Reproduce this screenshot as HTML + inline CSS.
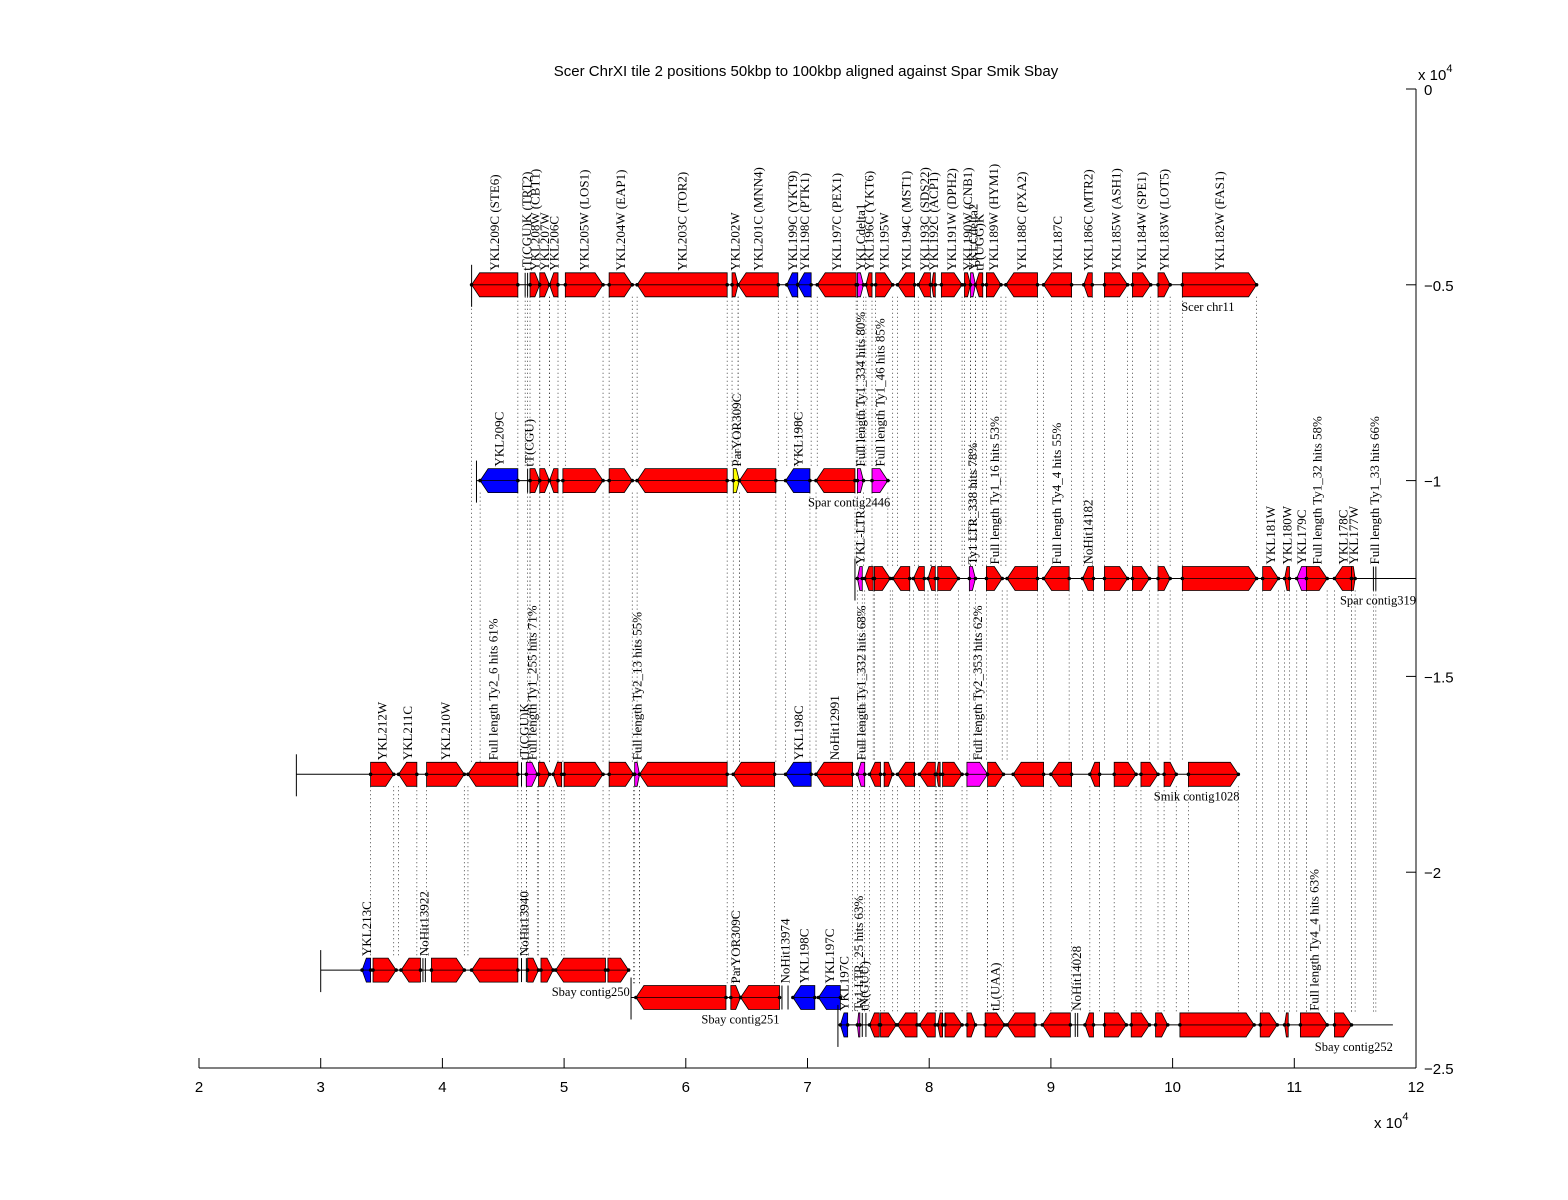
<!DOCTYPE html>
<html><head><meta charset="utf-8"><style>
html,body{margin:0;padding:0;background:#fff;}
svg{display:block;}
</style></head><body>
<svg id="chart" width="1568" height="1200" xmlns="http://www.w3.org/2000/svg">
<rect width="1568" height="1200" fill="#fff"/>
<text x="806" y="76" font-family="Liberation Sans, sans-serif" font-size="15" text-anchor="middle">Scer ChrXI tile 2 positions 50kbp to 100kbp aligned against Spar Smik Sbay</text>
<g id="dots"></g>
<g id="tracks"></g>
<g id="labels"></g>
<g id="axes"></g>
<text x="1418" y="80" font-family="Liberation Sans, sans-serif" font-size="15">x 10<tspan dy="-8" font-size="11">4</tspan></text>
<text x="1374" y="1128" font-family="Liberation Sans, sans-serif" font-size="15">x 10<tspan dy="-8" font-size="11">4</tspan></text>
</svg>
<script>
const xTicks = [2,3,4,5,6,7,8,9,10,11,12];
const yTicks = [0,-0.5,-1,-1.5,-2,-2.5];
const yTickLabels = ["0","\u22120.5","\u22121","\u22121.5","\u22122","\u22122.5"];
const trackNames = ["Scer chr11","Spar contig2446","Spar contig319","Smik contig1028","Sbay contig250","Sbay contig251","Sbay contig252"];
const trackY = [-0.5,-1.0,-1.25,-1.75,-2.25,-2.32,-2.39];
const trackFrom = [4.24,4.28,7.39,2.80,3.00,5.55,7.25];
const trackTo = [10.69,7.68,12.0,10.55,5.54,6.77,11.81];

const scerStart=[4.24,4.68,4.72,4.80,4.88,5.01,5.37,5.60,6.38,6.43,6.83,6.92,7.08,7.41,7.48,7.56,7.74,7.91,8.02,8.10,8.29,8.34,8.38,8.47,8.63,8.94,9.27,9.44,9.67,9.88,10.08];
const scerEnd=[4.62,4.70,4.80,4.88,4.95,5.32,5.56,6.34,6.43,6.76,6.92,7.03,7.40,7.46,7.53,7.70,7.88,8.01,8.05,8.27,8.34,8.38,8.44,8.59,8.89,9.17,9.34,9.63,9.82,9.98,10.69];
const scerDir="LLRRLRRLRLLLLRLRLLLRRRLRLLLRRRR";
const scerCol="rlrrrrrrrrbbrmrrrrrrrmrrrrrrrrr";
const scerLab=["YKL209C (STE6)","tT(CGU)K (TRT2)","YKL208W (CBT1)","YKL207W","YKL206C","YKL205W (LOS1)","YKL204W (EAP1)","YKL203C (TOR2)","YKL202W","YKL201C (MNN4)","YKL199C (YKT9)","YKL198C (PTK1)","YKL197C (PEX1)","YKLCdelta1","YKL196C (YKT6)","YKL195W","YKL194C (MST1)","YKL193C (SDS22)","YKL192C (ACP1)","YKL191W (DPH2)","YKL190W (CNB1)","YKLCdelta2","tP(UGG)K","YKL189W (HYM1)","YKL188C (PXA2)","YKL187C","YKL186C (MTR2)","YKL185W (ASH1)","YKL184W (SPE1)","YKL183W (LOT5)","YKL182W (FAS1)"];

const spaAStart=[4.31,4.70,4.72,4.80,4.88,4.99,5.37,5.60,6.39,6.44,6.82,7.07,7.41,7.53];
const spaAEnd=[4.62,4.72,4.80,4.88,4.95,5.32,5.56,6.34,6.44,6.74,7.02,7.39,7.46,7.66];
const spaADir="LLRRLRRLRLLLRR";
const spaACol="blrrrrrryrbrmm";
const spaALab=["YKL209C","tT(CGU)","","","","","","","ParYOR309C","","YKL198C","","Full length Ty1_334 hits 80%","Full length Ty1_46 hits 85%"];

const spaBStart=[7.41,7.47,7.55,7.70,7.87,7.99,8.07,8.33,8.47,8.64,8.94,9.26,9.44,9.67,9.88,10.08,10.74,10.92,11.02,11.10,11.33,11.47,11.65];
const spaBEnd=[7.45,7.54,7.68,7.84,7.96,8.05,8.24,8.38,8.60,8.89,9.15,9.35,9.63,9.81,9.98,10.69,10.87,10.96,11.10,11.27,11.47,11.50,11.67];
const spaBDir="LLRLLLRRRLLLRRRRRLLRLRL";
const spaBCol="mrrrrrrmrrrrrrrrrrmrrrl";
const spaBLab=["YKL-LTR","","","","","","","Ty1 LTR_338 hits 78%","Full length Ty1_16 hits 53%","","Full length Ty4_4 hits 55%","NoHit14182","","","","","YKL181W","YKL180W","YKL179C","Full length Ty1_32 hits 58%","YKL178C","YKL177W","Full length Ty1_33 hits 66%"];

const smikStart=[3.41,3.64,3.87,4.21,4.65,4.69,4.79,4.91,5.00,5.37,5.58,5.62,6.39,6.82,7.07,7.41,7.51,7.63,7.74,7.92,8.06,8.11,8.31,8.48,8.69,9.00,9.32,9.52,9.74,9.93,10.13];
const smikEnd=[3.60,3.79,4.18,4.62,4.69,4.78,4.88,4.98,5.32,5.57,5.62,6.34,6.73,7.03,7.37,7.47,7.60,7.70,7.88,8.05,8.09,8.27,8.48,8.61,8.94,9.17,9.40,9.70,9.88,10.03,10.54];
const smikDir="RLRLLRRLRRRLLLLLLRLLLRRRLLLRRRR";
const smikCol="rrrrlmrrrrmrrbrmrrrrrrmrrrrrrrr";
const smikLab=["YKL212W","YKL211C","YKL210W","Full length Ty2_6 hits 61%","tT(CGU)K","Full length Ty1_255 hits 71%","","","","","Full length Ty2_13 hits 55%","","","YKL198C","NoHit12991","Full length Ty1_332 hits 68%","","","","","","","Full length Ty2_353 hits 62%","","","","","","","",""];

const sbyAStart=[3.34,3.43,3.66,3.84,3.91,4.24,4.65,4.70,4.81,4.93,5.36];
const sbyAEnd=[3.41,3.62,3.82,3.86,4.18,4.62,4.69,4.79,4.91,5.34,5.53];
const sbyADir="LRLLRLLRRLR";
const sbyACol="brrlrrlrrrr";
const sbyALab=["YKL213C","","","NoHit13922","","","NoHit13940","","","",""];

const sbyBStart=[5.59,6.37,6.45,6.79,6.88,7.09];
const sbyBEnd=[6.33,6.45,6.77,6.84,7.06,7.27];
const sbyBDir="LRLLLL";
const sbyBCol="rrrlbb";
const sbyBLab=["","ParYOR309C","","NoHit13974","YKL198C","YKL197C"];

const sbyCStart=[7.27,7.41,7.45,7.51,7.60,7.74,7.92,8.07,8.13,8.31,8.46,8.64,8.93,9.20,9.28,9.44,9.66,9.86,10.06,10.72,10.92,11.05,11.33];
const sbyCEnd=[7.33,7.43,7.48,7.59,7.73,7.90,8.05,8.11,8.27,8.38,8.62,8.87,9.16,9.22,9.35,9.62,9.81,9.96,10.67,10.86,10.95,11.27,11.47];
const sbyCDir="LLLLRLLLRRRLLLLRRRRRLRR";
const sbyCCol="bmlrrrrrrrrrrlrrrrrrrrr";
const sbyCLab=["YKL197C","Ty1 LTR_25 hits 63%","tN(GUU)","","","","","","","","tL(UAA)","","","NoHit14028","","","","","","","","Full length Ty4_4 hits 63%",""];

const tracksData=[
 [scerStart,scerEnd,scerDir,scerCol,scerLab],
 [spaAStart,spaAEnd,spaADir,spaACol,spaALab],
 [spaBStart,spaBEnd,spaBDir,spaBCol,spaBLab],
 [smikStart,smikEnd,smikDir,smikCol,smikLab],
 [sbyAStart,sbyAEnd,sbyADir,sbyACol,sbyALab],
 [sbyBStart,sbyBEnd,sbyBDir,sbyBCol,sbyBLab],
 [sbyCStart,sbyCEnd,sbyCDir,sbyCCol,sbyCLab]
];

const NS="http://www.w3.org/2000/svg";
const X=d=>199+(d-2)*121.7;
const Y=v=>89-v*391.6;
const colors={r:"#ff0000",b:"#0000ff",m:"#ff00ff",y:"#ffff00"};
function mk(tag,attrs,parent){const e=document.createElementNS(NS,tag);for(const k in attrs)e.setAttribute(k,attrs[k]);parent.appendChild(e);return e;}
const gDots=document.getElementById('dots'),gTr=document.getElementById('tracks'),gLab=document.getElementById('labels'),gAx=document.getElementById('axes');

tracksData.forEach((t,i)=>{
  t[0].forEach((s,k)=>{
    [s,t[1][k]].forEach(d=>{
      for(let j=i+1;j<tracksData.length;j++){
        if(d>=trackFrom[j]&&d<=trackTo[j]){
          const l=mk('line',{x1:X(d),x2:X(d),y1:Y(trackY[i])+12,y2:Y(trackY[j])-12,stroke:"#000","stroke-width":0.7,"stroke-dasharray":"1,3"},gDots);
          
          
          break;
        }
      }
    });
  });
});

tracksData.forEach((t,i)=>{
  const y=Y(trackY[i]);
  const bl=mk('line',{x1:X(trackFrom[i]),x2:X(trackTo[i]),y1:y,y2:y,stroke:"#000","stroke-width":1},gTr);
  
  
  const bk=mk('line',{x1:X(trackFrom[i]),x2:X(trackFrom[i]),y1:y-20,y2:y+22,stroke:"#000","stroke-width":1},gTr);
  
  
  t[0].forEach((s,k)=>{
    const e=t[1][k],dir=t[2][k],c=t[3][k];
    const x1=X(s),x2=X(e);
    if(c==='l'){
      const g=mk('g',{},gTr);
      
      
      mk('line',{x1:x1,x2:x1,y1:y-12,y2:y+12,stroke:"#000","stroke-width":1},g);
      mk('line',{x1:x2,x2:x2,y1:y-12,y2:y+12,stroke:"#000","stroke-width":1},g);
    } else {
      const w=x2-x1,h=Math.min(8,w/2);
      let pts;
      if(dir==='R') pts=[[x1,y-12],[x2-h,y-12],[x2,y],[x2-h,y+12],[x1,y+12]];
      else pts=[[x2,y-12],[x1+h,y-12],[x1,y],[x1+h,y+12],[x2,y+12]];
      const p=mk('polygon',{points:pts.map(q=>q.join(',')).join(' '),fill:colors[c],stroke:"#000","stroke-width":0.8},gTr);
      
      
      mk('line',{x1:x1,x2:x2,y1:y,y2:y,stroke:"#000","stroke-width":0.8},gTr);
      mk('circle',{cx:x1,cy:y,r:1.8,fill:"#000"},gTr);
      mk('circle',{cx:x2,cy:y,r:1.8,fill:"#000"},gTr);
    }
    const lab=t[4][k];
    if(lab){
      const cx=(x1+x2)/2+4.5;
      const tx=mk('text',{transform:`translate(${cx},${y-14}) rotate(-90)`,"font-family":"Liberation Serif, serif","font-size":13},gLab);
      tx.textContent=lab;
      
      
    }
  });
  const nm=mk('text',{x:X(trackTo[i])-(i===0?22:0),y:y+26,"font-family":"Liberation Serif, serif","font-size":12.5,"text-anchor":"end"},gTr);
  nm.textContent=trackNames[i];
  
  
});

const ax=mk('line',{x1:X(2),x2:X(12),y1:Y(-2.5),y2:Y(-2.5),stroke:"#000"},gAx);


const ay=mk('line',{x1:X(12),x2:X(12),y1:Y(0),y2:Y(-2.5),stroke:"#000"},gAx);


xTicks.forEach(v=>{
  const tk=mk('line',{x1:X(v),x2:X(v),y1:Y(-2.5),y2:Y(-2.5)-10,stroke:"#000"},gAx);
  
  
  const tl=mk('text',{x:X(v),y:Y(-2.5)+24,"font-family":"Liberation Sans, sans-serif","font-size":15,"text-anchor":"middle"},gAx);
  tl.textContent=String(v);
  
  
});
yTicks.forEach((v,i)=>{
  const tk=mk('line',{x1:X(12),x2:X(12)-10,y1:Y(v),y2:Y(v),stroke:"#000"},gAx);
  
  
  const tl=mk('text',{x:X(12)+8,y:Y(v)+6,"font-family":"Liberation Sans, sans-serif","font-size":15},gAx);
  tl.textContent=yTickLabels[i];
  
  
});
</script>
</body></html>
